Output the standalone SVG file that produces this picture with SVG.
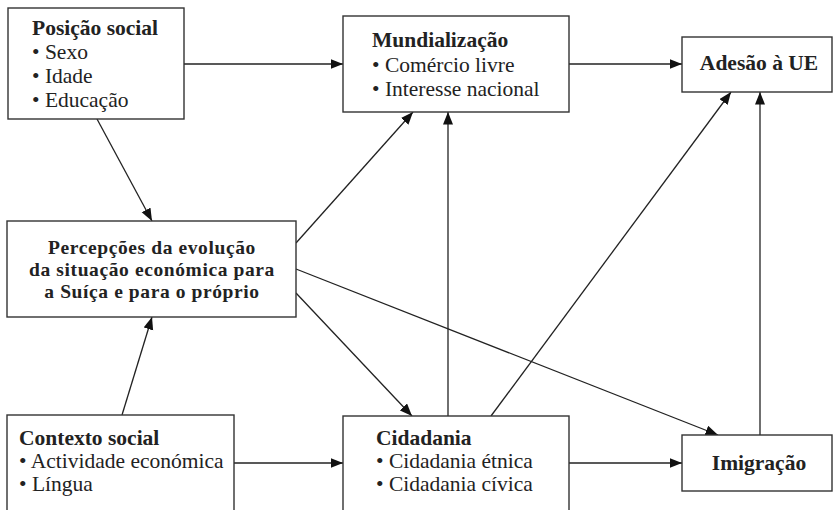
<svg xmlns="http://www.w3.org/2000/svg" width="833" height="510" viewBox="0 0 833 510">
<style>
.box{fill:#fff;stroke:#333;stroke-width:1.4}
.t{font-family:"Liberation Serif","Times New Roman",serif;font-size:21.5px;fill:#222}
.b{font-weight:bold}
.c{text-anchor:middle}
.p{font-size:19.5px;letter-spacing:0.6px}
.ln{stroke:#222;stroke-width:1.3;fill:none;marker-end:url(#ah)}
</style>
<defs>
<marker id="ah" markerUnits="userSpaceOnUse" markerWidth="13" markerHeight="11" refX="12.5" refY="5" orient="auto">
<path d="M0,0 L12.5,5 L0,10 z" fill="#111"/>
</marker>
</defs>
<rect width="833" height="510" fill="#fff"/>
<g id="connectors">
<line class="ln" x1="184" y1="64" x2="343" y2="64"/>
<line class="ln" x1="569" y1="64" x2="682" y2="64"/>
<line class="ln" x1="97" y1="119" x2="152" y2="221"/>
<line class="ln" x1="296" y1="243" x2="413" y2="112"/>
<line class="ln" x1="296" y1="293" x2="412" y2="416"/>
<line class="ln" x1="296" y1="269" x2="718" y2="435"/>
<line class="ln" x1="122" y1="415" x2="152" y2="317"/>
<line class="ln" x1="234" y1="463" x2="343" y2="463"/>
<line class="ln" x1="448" y1="416" x2="448" y2="112"/>
<line class="ln" x1="491" y1="416" x2="731" y2="92"/>
<line class="ln" x1="569" y1="463" x2="682" y2="463"/>
<line class="ln" x1="760" y1="435" x2="760" y2="92"/>
</g>
<g id="posicao">
<rect class="box" x="8" y="8" width="176" height="111"/>
<text class="t b" x="32" y="35">Posição social</text>
<text class="t" x="32" y="59">• Sexo</text>
<text class="t" x="32" y="83">• Idade</text>
<text class="t" x="32" y="107">• Educação</text>
</g>
<g id="mundializacao">
<rect class="box" x="343" y="16" width="226" height="96"/>
<text class="t b" x="372" y="47">Mundialização</text>
<text class="t" x="372" y="72">• Comércio livre</text>
<text class="t" x="372" y="96">• Interesse nacional</text>
</g>
<g id="adesao">
<rect class="box" x="682" y="37" width="150" height="55"/>
<text class="t b c" x="759" y="70">Adesão à UE</text>
</g>
<g id="percepcoes">
<rect class="box" x="7" y="221" width="289" height="96"/>
<text class="t b c p" x="152" y="254">Percepções da evolução</text>
<text class="t b c p" x="152" y="276">da situação económica para</text>
<text class="t b c p" x="152" y="298">a Suíça e para o próprio</text>
</g>
<g id="contexto">
<rect class="box" x="7" y="415" width="227" height="100"/>
<text class="t b" x="19" y="445">Contexto social</text>
<text class="t" x="19" y="468">• Actividade económica</text>
<text class="t" x="19" y="491">• Língua</text>
</g>
<g id="cidadania">
<rect class="box" x="343" y="416" width="226" height="99"/>
<text class="t b" x="376" y="445">Cidadania</text>
<text class="t" x="376" y="468">• Cidadania étnica</text>
<text class="t" x="376" y="491">• Cidadania cívica</text>
</g>
<g id="imigracao">
<rect class="box" x="682" y="435" width="150" height="56"/>
<text class="t b c" x="759" y="470">Imigração</text>
</g>
</svg>
